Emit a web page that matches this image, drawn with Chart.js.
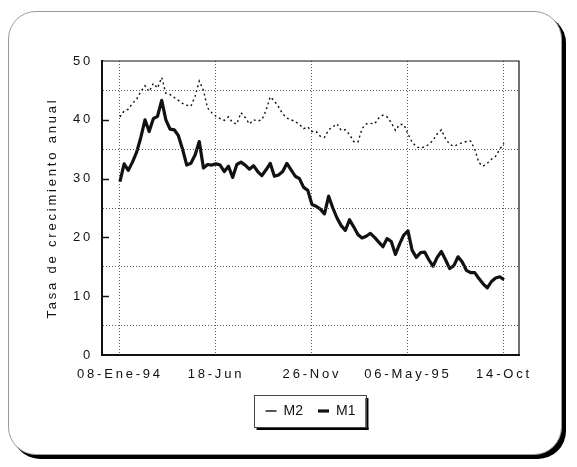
<!DOCTYPE html>
<html>
<head>
<meta charset="utf-8">
<script src="https://cdn.jsdelivr.net/npm/chart.js@4/dist/chart.umd.min.js"></script>
<style>
  html, body { margin: 0; padding: 0; background: #fff; }
  #wrap { position: relative; width: 577px; height: 467px; overflow: hidden; }
  /* rounded frame with the hard black drop shadow */
  #frame {
    position: absolute; left: 8px; top: 11px; width: 552px; height: 442px;
    border: 1px solid #9a9a9a; border-radius: 28px;
    box-shadow: 4px 4px 0 #000; background: #fff;
  }
  #chart { position: absolute; left: 0; top: 0; }
</style>
</head>
<body>
<div id="wrap">
  <div id="frame"></div>
  <canvas id="chart" width="577" height="467"></canvas>
</div>
<script>
"use strict";
// weekly annual growth rates, 08-Ene-94 .. 14-Oct-95 (93 weeks)
const M1 = [
  29.5, 32.5, 31.4, 32.8, 34.5, 37.0, 40.0, 38.0, 40.2, 40.6,
  43.3, 40.0, 38.4, 38.3, 37.3, 35.0, 32.3, 32.6, 34.0, 36.3,
  31.8, 32.4, 32.3, 32.5, 32.3, 31.2, 32.1, 30.2, 32.4, 32.8,
  32.3, 31.6, 32.2, 31.2, 30.5, 31.5, 32.6, 30.4, 30.6, 31.2,
  32.6, 31.5, 30.4, 30.0, 28.5, 28.0, 25.6, 25.3, 24.8, 24.0,
  27.0, 25.0, 23.3, 22.0, 21.2, 23.0, 21.8, 20.5, 19.9, 20.2,
  20.7, 20.0, 19.2, 18.4, 19.8, 19.3, 17.1, 18.9, 20.4, 21.1,
  17.8, 16.6, 17.4, 17.5, 16.2, 15.1, 16.6, 17.6, 16.2, 14.7,
  15.2, 16.7, 15.8, 14.4, 14.0, 14.0, 13.0, 12.1, 11.4, 12.5,
  13.1, 13.3, 12.8
];
const M2 = [
  40.5, 41.5, 41.8, 42.8, 43.5, 44.8, 45.8, 44.8, 46.2, 45.4,
  47.2, 44.5, 44.3, 43.8, 43.3, 42.8, 42.5, 42.3, 44.0, 46.6,
  45.0, 42.0, 41.2, 40.6, 40.2, 39.9, 40.5, 39.5, 39.3, 41.2,
  40.4, 39.3, 40.0, 39.8, 40.0, 41.6, 43.9, 43.2, 42.2, 41.0,
  40.3, 40.0, 39.7, 39.2, 38.5, 38.8, 38.0, 38.0, 37.2, 37.0,
  38.3, 38.8, 39.3, 38.2, 38.3, 37.5, 36.3, 36.2, 38.5, 39.3,
  39.4, 39.3, 40.3, 40.8, 40.5, 39.5, 38.2, 39.2, 39.2, 37.6,
  36.2, 35.4, 35.2, 35.4, 35.8, 36.5, 37.6, 38.3, 36.8, 35.8,
  35.5, 35.8, 36.1, 36.3, 36.4, 35.0, 32.7, 32.1, 32.6, 33.3,
  33.8, 35.0, 36.0
];
const TICK_WEEKS = [0, 23, 46, 69, 92];
const TICK_LABELS = ["08-Ene-94", "18-Jun", "26-Nov", "06-May-95", "14-Oct"];
const Y_LABELS = [0, 10, 20, 30, 40, 50];

const FONT = '"Liberation Sans", Arial, Helvetica, sans-serif';
const INK = "#111";
const GRID = "#5a5a5a";
const SPACING = "2.8px"; // wide lettering of the axis texts

const toPts = (arr) => arr.map((v, i) => ({ x: i, y: v }));

// plot frame, inward y ticks, spaced axis text, legend box
const decor = {
  id: "decor",
  beforeDraw(chart) { chart.ctx.letterSpacing = "0px"; },
  afterDatasetsDraw(chart) { chart.ctx.letterSpacing = SPACING; },
  afterDraw(chart) {
    const { ctx, chartArea: a, scales } = chart;
    ctx.save();
    ctx.letterSpacing = "0px";
    ctx.strokeStyle = INK;
    ctx.setLineDash([]);
    ctx.lineWidth = 1.2;
    ctx.beginPath();
    ctx.moveTo(a.left, a.top); ctx.lineTo(a.right, a.top); ctx.lineTo(a.right, a.bottom);
    ctx.stroke();
    ctx.lineWidth = 1.5;
    Y_LABELS.slice(1, -1).forEach((v) => {
      const y = Math.round(scales.y.getPixelForValue(v)) + 0.5;
      ctx.beginPath(); ctx.moveTo(a.left, y); ctx.lineTo(a.left + 7, y); ctx.stroke();
    });
    const boxes = chart.legend.legendHitBoxes;
    if (boxes && boxes.length) {
      const l = Math.min(...boxes.map((b) => b.left)) - 12;
      const r = Math.max(...boxes.map((b) => b.left + b.width)) + 10;
      const t = Math.min(...boxes.map((b) => b.top)) - 9;
      const bt = Math.max(...boxes.map((b) => b.top + b.height)) + 9;
      ctx.fillStyle = "#000";
      ctx.fillRect(l + 3, bt, r - l, 3);
      ctx.fillRect(r, t + 3, 3, bt - t);
      ctx.lineWidth = 1;
      ctx.strokeStyle = "#444";
      ctx.strokeRect(Math.round(l) + 0.5, Math.round(t) + 0.5, Math.round(r - l), Math.round(bt - t));
    }
    ctx.restore();
    ctx.letterSpacing = "0px";
  },
};

new Chart(document.getElementById("chart").getContext("2d"), {
  type: "line",
  data: {
    datasets: [
      {
        label: "M2",
        data: toPts(M2),
        borderColor: INK,
        borderWidth: 1.4,
        borderDash: [2, 3],
        pointRadius: 0,
        fill: false,
        tension: 0,
      },
      {
        label: "M1",
        data: toPts(M1),
        borderColor: INK,
        borderWidth: 3.2,
        borderJoinStyle: "round",
        pointRadius: 0,
        fill: false,
        tension: 0,
      },
    ],
  },
  options: {
    responsive: false,
    animation: false,
    devicePixelRatio: 1,
    layout: { padding: { left: 38, right: 58, top: 61, bottom: 39 } },
    plugins: {
      legend: {
        position: "bottom",
        fullSize: false,
        labels: {
          usePointStyle: true,
          pointStyle: "line",
          pointStyleWidth: 11,
          padding: 15,
          color: INK,
          font: { family: FONT, size: 14 },
        },
      },
      tooltip: { enabled: false },
    },
    scales: {
      x: {
        type: "linear",
        min: -4.3,
        max: 95.6,
        afterBuildTicks: (s) => { s.ticks = TICK_WEEKS.map((v) => ({ value: v })); },
        afterFit: (s) => { s.height = 34; },
        grid: { color: GRID, lineWidth: 1, drawTicks: false, z: 0 },
        border: { display: true, color: INK, width: 2, dash: [1, 2], z: 1 },
        ticks: {
          z: 1,
          padding: 12,
          color: INK,
          font: { family: FONT, size: 13 },
          maxRotation: 0,
          autoSkip: false,
          callback: (v) => TICK_LABELS[TICK_WEEKS.indexOf(v)] || "",
        },
      },
      y: {
        min: 0,
        max: 50,
        afterBuildTicks: (s) => {
          const t = [];
          for (let v = 0; v <= 50; v += 5) t.push({ value: v });
          s.ticks = t;
        },
        afterFit: (s) => { s.width = 64; },
        grid: {
          color: (c) => (c.tick && c.tick.value % 10 === 5 ? GRID : "rgba(0,0,0,0)"),
          lineWidth: 1,
          drawTicks: false,
          z: 1, // grid layer also carries the axis title, draw it after the lines
        },
        border: { display: true, color: INK, width: 2, dash: [1, 2], z: 1 },
        title: {
          display: true,
          text: "Tasa de crecimiento anual",
          color: INK,
          font: { family: FONT, size: 13 },
          padding: { top: 7, bottom: 4 },
        },
        ticks: {
          z: 1,
          padding: 9,
          color: INK,
          font: { family: FONT, size: 13 },
          autoSkip: false,
          callback: (v) => (Y_LABELS.includes(v) ? String(v) : ""),
        },
      },
    },
  },
  plugins: [decor],
});
</script>
</body>
</html>
